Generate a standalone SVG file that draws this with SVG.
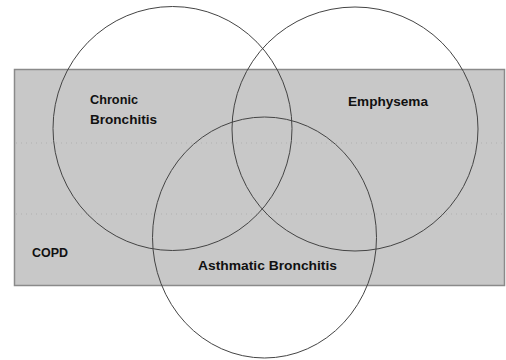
<svg xmlns="http://www.w3.org/2000/svg" width="506" height="360" viewBox="0 0 506 360">
<style>
.lbl{font-family:"Liberation Sans","Arial",sans-serif;font-weight:bold;font-size:13.5px;fill:#111}
.ring{fill:none;stroke:#444;stroke-width:1}
.dot{stroke:#b0b0b0;stroke-width:1;stroke-dasharray:1 4}
</style>
<rect width="506" height="360" fill="#fff"/>
<g id="copd">
<rect x="14.5" y="69.5" width="490" height="216" fill="#c8c8c8" stroke="#8a8a8a" stroke-width="1.5"/>
<line class="dot" x1="16" y1="143" x2="503" y2="143"/>
<line class="dot" x1="16" y1="214" x2="503" y2="214"/>
<text class="lbl" x="32" y="257" textLength="36" lengthAdjust="spacingAndGlyphs">COPD</text>
</g>
<g id="chronic-bronchitis">
<ellipse class="ring" cx="172.5" cy="128.5" rx="119.5" ry="122"/>
<text class="lbl" x="90" y="104" textLength="48" lengthAdjust="spacingAndGlyphs">Chronic</text>
<text class="lbl" x="90" y="124" textLength="67" lengthAdjust="spacingAndGlyphs">Bronchitis</text>
</g>
<g id="emphysema">
<ellipse class="ring" cx="355" cy="129" rx="123" ry="122"/>
<text class="lbl" x="348" y="106" textLength="80" lengthAdjust="spacingAndGlyphs">Emphysema</text>
</g>
<g id="asthmatic-bronchitis">
<ellipse class="ring" cx="264.5" cy="237.5" rx="112" ry="120.5"/>
<text class="lbl" x="198" y="270" textLength="139" lengthAdjust="spacingAndGlyphs">Asthmatic Bronchitis</text>
</g>
<g id="connectors"/>
</svg>
